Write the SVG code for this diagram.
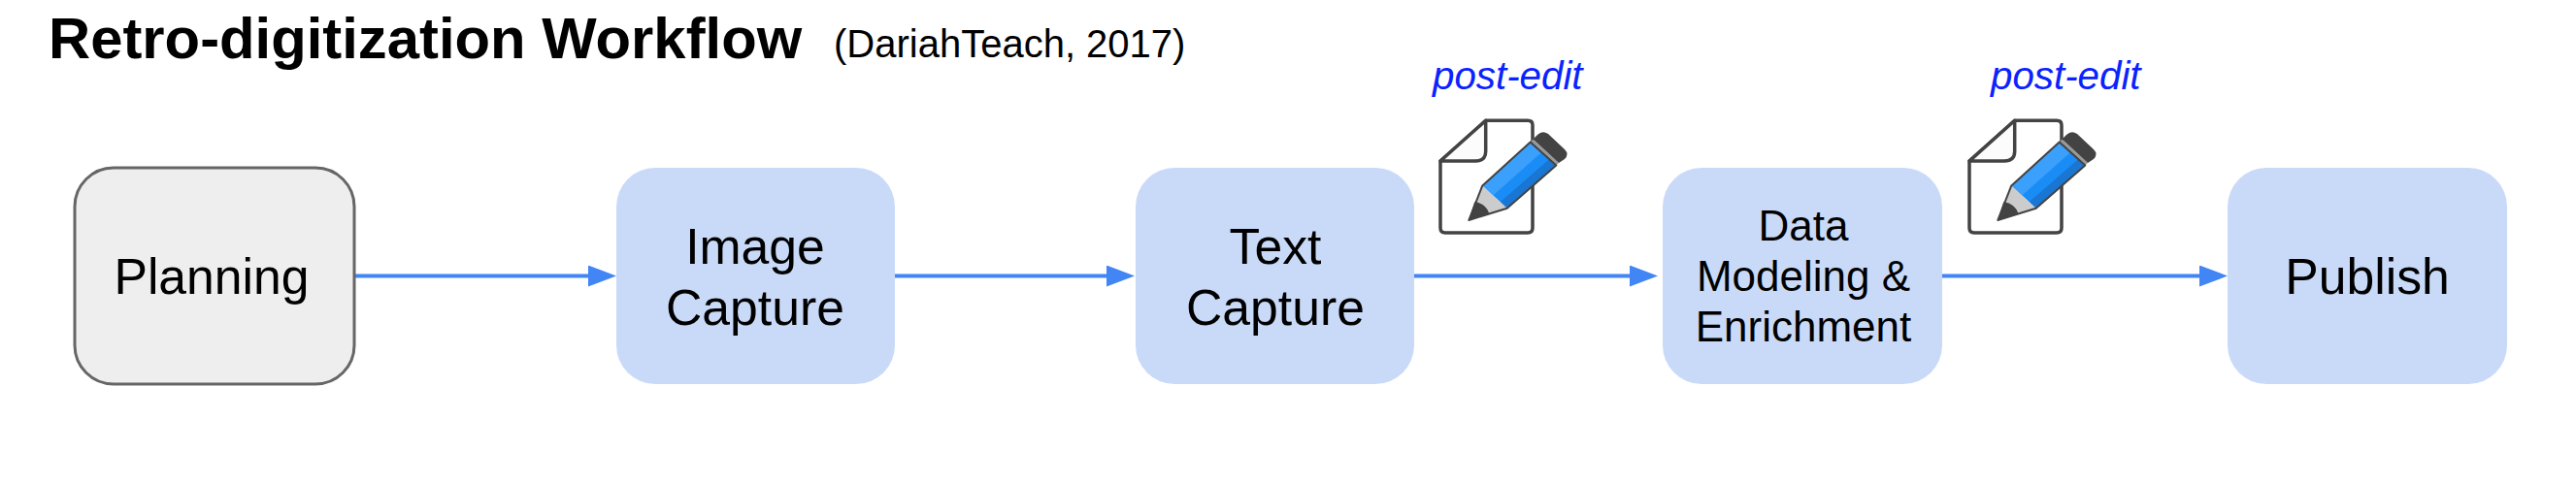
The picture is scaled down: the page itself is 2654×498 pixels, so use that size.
<svg xmlns="http://www.w3.org/2000/svg" width="2654" height="498" viewBox="0 0 2654 498">
<style>
text{font-family:"Liberation Sans",Arial,sans-serif;fill:#000}
.n{fill:#c9daf8}
.l{font-size:51.7px;text-anchor:middle}
.s{font-size:44px;text-anchor:middle}
.e{font-size:40.3px;font-style:italic;fill:#0b22ff}
.c{stroke:#4285f4;stroke-width:4;fill:none;marker-end:url(#a)}
</style>
<defs>
<marker id="a" markerUnits="userSpaceOnUse" markerWidth="30" markerHeight="24" refX="4" refY="11" orient="auto"><path d="M0 0L29 11L0 22Z" fill="#4285f4"/></marker>
<g id="icon">
<path d="M0 42L46.700 0.300H90Q95 0.300 95 5V111Q95 116 90 116H5Q0 116 0 111Z" fill="#fff" stroke="#434343" stroke-width="3.500" stroke-linejoin="round"/>
<path d="M0 42L46.700 0.300V32Q46.700 42 36 42Z" fill="#fcfcfc" stroke="#434343" stroke-width="3.500" stroke-linejoin="round"/>
<path d="M43.300 67.400L92.700 22.400L119.300 46.400L68.700 90.700Z" fill="#1a8cf5"/>
<path d="M43.300 67.400L92.700 22.400L104.300 33L54.300 77.400Z" fill="#3aa0fb"/>
<path d="M62 84L112.700 39.700L119.300 46.400L68.700 90.700Z" fill="#1976d2"/>
<path d="M43.300 67.400L68.700 90.700L29.300 103Z" fill="#ccc"/>
<path d="M29.300 103L35.300 84Q47 86 50.300 96Z" fill="#434343"/>
<path d="M92.700 22.400L119.300 46.400L122 44L95.500 19.500Z" fill="#999"/>
<path d="M95.500 19.500L100 15Q105 10 111 14L128 30Q133 35 128 40L122 44Z" fill="#434343"/>
<path d="M43.300 67.400L92.700 22.400L119.300 46.400L68.700 90.700L29.300 103Z" fill="none" stroke="#434343" stroke-width="2" stroke-linejoin="round"/>
</g>
</defs>
<rect width="2654" height="498" fill="#fff"/>
<g id="title"><text x="50" y="60" font-size="59.800" font-weight="bold">Retro-digitization Workflow</text><text x="859" y="59" font-size="40">(DariahTeach, 2017)</text></g>
<g id="connectors">
<path class="c" d="M365 284.500H610"/>
<path class="c" d="M922 284.500H1144"/>
<path class="c" d="M1453 284.500H1683"/>
<path class="c" d="M2001 284.500H2270"/>
</g>
<g id="planning"><rect x="77" y="173" width="288" height="223" rx="40" fill="#eee" stroke="#666" stroke-width="3"/><text class="l" x="218" y="303">Planning</text></g>
<g id="image-capture"><rect class="n" x="635" y="173" width="287" height="223" rx="40"/><text class="l" x="778" y="272">Image</text><text class="l" x="778" y="335">Capture</text></g>
<g id="text-capture"><rect class="n" x="1170" y="173" width="287" height="223" rx="40"/><text class="l" x="1314" y="272">Text</text><text class="l" x="1314" y="335">Capture</text></g>
<g id="data-modeling"><rect class="n" x="1713" y="173" width="288" height="223" rx="40"/><text class="s" x="1858" y="248">Data</text><text class="s" x="1858" y="300">Modeling &amp;</text><text class="s" x="1858" y="352">Enrichment</text></g>
<g id="publish"><rect class="n" x="2295" y="173" width="288" height="223" rx="40"/><text class="l" x="2439" y="303">Publish</text></g>
<g id="edit-1"><text class="e" x="1476" y="92">post-edit</text><use href="#icon" x="1484" y="124"/></g>
<g id="edit-2"><text class="e" x="2051" y="92">post-edit</text><use href="#icon" x="2029" y="124"/></g>
</svg>
